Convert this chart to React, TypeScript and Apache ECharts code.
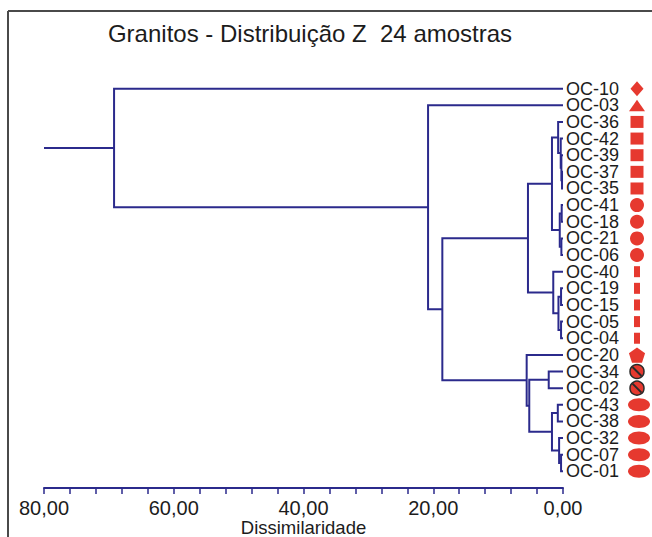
import React, { useEffect, useRef } from "react";
import * as echarts from "echarts";

const chartTitle = "Granitos - Distribuição Z  24 amostras";
const axisName = "Dissimilaridade";

const leafNames = [
  "OC-10", "OC-03", "OC-36", "OC-42", "OC-39", "OC-37", "OC-35", "OC-41",
  "OC-18", "OC-21", "OC-06", "OC-40", "OC-19", "OC-15", "OC-05", "OC-04",
  "OC-20", "OC-34", "OC-02", "OC-43", "OC-38", "OC-32", "OC-07", "OC-01",
];
const leafMarkers = [
  "diamond", "triangle", "square", "square", "square", "square", "square",
  "circle", "circle", "circle", "circle", "dash", "dash", "dash", "dash", "dash",
  "pentagon", "banned", "banned", "ellipse", "ellipse", "ellipse", "ellipse", "ellipse",
];

// merges: node ids 0..23 are leaves, merge k creates node 24+k
const mergeLeft = [5, 4, 3, 2, 7, 9, 28, 27, 12, 14, 32, 11, 31, 17, 19, 22, 21, 38, 37, 16, 36, 1, 0];
const mergeRight = [6, 24, 25, 26, 8, 10, 29, 30, 13, 15, 33, 34, 35, 18, 20, 23, 39, 40, 41, 42, 43, 44, 45];
const mergeHeight = [0.15, 0.25, 0.35, 0.75, 0.2, 0.25, 0.5, 1.7, 0.3, 0.3, 0.7, 1.5, 5.4, 2.2, 0.8, 0.3, 0.6, 1.7, 5.2, 5.6, 18.6, 20.8, 69.2];

const xMin = 0;
const xMax = 80;
const xInterval = 20;

const NAVY = "#2b2a8c";
const RED = "#e6392f";
const TEXT = "#1c1c1c";
const FONT = "Liberation Sans, Arial, sans-serif";

export default function App() {
  const ref = useRef<HTMLDivElement>(null);

  useEffect(() => {
    if (!ref.current) return;
    const chart = echarts.init(ref.current, null, { renderer: "svg" });

    const nodeH: number[] = leafNames.map(() => 0);
    const nodeY: number[] = leafNames.map((_, i) => i);
    mergeLeft.forEach((l, k) => {
      const r = mergeRight[k];
      nodeH.push(mergeHeight[k]);
      nodeY.push((nodeY[l] + nodeY[r]) / 2);
    });
    const links = mergeLeft.map((l, k) => {
      const r = mergeRight[k];
      return [nodeH[l], nodeY[l], nodeH[r], nodeY[r], mergeHeight[k]];
    });
    const rootId = nodeH.length - 1;
    links.push([nodeH[rootId], nodeY[rootId], xMax, nodeY[rootId], xMax]);

    const markerData = leafNames.map((_, i) => [0, i]);

    chart.setOption({
      animation: false,
      backgroundColor: "#ffffff",
      title: {
        text: chartTitle,
        left: 305,
        top: 16,
        textAlign: "center",
        textStyle: { fontSize: 24, fontWeight: "normal", color: TEXT, fontFamily: FONT },
      },
      graphic: [
        { type: "line", shape: { x1: 8, y1: 11, x2: 652, y2: 11 }, style: { stroke: "#4a4a4a", lineWidth: 2 } },
        { type: "line", shape: { x1: 8, y1: 11, x2: 8, y2: 537 }, style: { stroke: "#4a4a4a", lineWidth: 2 } },
      ],
      grid: { left: 44, right: 89, top: 72, bottom: 49, containLabel: false, outerBoundsMode: "none" },
      xAxis: {
        type: "value",
        inverse: true,
        position: "bottom",
        min: xMin,
        max: xMax,
        interval: xInterval,
        name: axisName,
        nameLocation: "middle",
        nameGap: 30,
        nameMoveOverlap: false,
        nameTextStyle: { fontSize: 18.5, color: TEXT, fontFamily: FONT },
        axisLine: { show: true, onZero: false, lineStyle: { color: NAVY, width: 2 } },
        axisTick: { show: true, length: 6, lineStyle: { color: NAVY, width: 1.5 } },
        minorTick: { show: true, splitNumber: 5, length: 6, lineStyle: { color: NAVY, width: 1.5 } },
        splitLine: { show: false },
        axisLabel: {
          fontSize: 20,
          color: TEXT,
          fontFamily: FONT,
          margin: 10,
          formatter: (v: number) => v.toFixed(2).replace(".", ","),
        },
      },
      yAxis: {
        type: "value",
        inverse: true,
        min: -1,
        max: 24,
        interval: 1,
        position: "right",
        axisLine: { show: false, onZero: false },
        axisTick: { show: false },
        splitLine: { show: false },
        axisLabel: {
          margin: 3,
          align: "left",
          fontSize: 18,
          lineHeight: 16,
          color: TEXT,
          fontFamily: FONT,
          formatter: (v: number) =>
            Number.isInteger(v) && v >= 0 && v < leafNames.length ? leafNames[v] : "",
        },
      },
      series: [
        {
          type: "custom",
          clip: false,
          data: links,
          encode: { x: [0, 2, 4], y: [1, 3] },
          renderItem: (_p: any, api: any) => {
            const a = api.coord([api.value(0), api.value(1)]);
            const ab = api.coord([api.value(4), api.value(1)]);
            const bb = api.coord([api.value(4), api.value(3)]);
            const b = api.coord([api.value(2), api.value(3)]);
            return {
              type: "polyline",
              shape: { points: [a, ab, bb, b] },
              style: { stroke: NAVY, lineWidth: 2, fill: "none" },
            };
          },
        },
        {
          type: "custom",
          clip: false,
          data: markerData,
          renderItem: (_p: any, api: any) => {
            const i = api.value(1);
            const p = api.coord([api.value(0), i]);
            const cx = p[0] + 74;
            const cy = p[1];
            const kind = leafMarkers[i];
            const st = { fill: RED };
            if (kind === "diamond") {
              return { type: "polygon", shape: { points: [[cx, cy - 7.5], [cx + 6.5, cy], [cx, cy + 7.5], [cx - 6.5, cy]] }, style: st };
            }
            if (kind === "triangle") {
              return { type: "polygon", shape: { points: [[cx, cy - 5.5], [cx + 8, cy + 6], [cx - 8, cy + 6]] }, style: st };
            }
            if (kind === "square") {
              return { type: "rect", shape: { x: cx - 6.5, y: cy - 6, width: 13, height: 12 }, style: st };
            }
            if (kind === "circle") {
              return { type: "circle", shape: { cx, cy, r: 7 }, style: st };
            }
            if (kind === "dash") {
              return { type: "rect", shape: { x: cx - 3, y: cy - 5.5, width: 6, height: 11 }, style: st };
            }
            if (kind === "pentagon") {
              const pts: number[][] = [];
              for (let k = 0; k < 5; k++) {
                const ang = -Math.PI / 2 + (k * 2 * Math.PI) / 5;
                pts.push([cx + 8.5 * Math.cos(ang), cy + 1 + 8.5 * Math.sin(ang)]);
              }
              return { type: "polygon", shape: { points: pts }, style: st };
            }
            if (kind === "banned") {
              return {
                type: "group",
                children: [
                  { type: "circle", shape: { cx, cy, r: 7 }, style: { fill: RED, stroke: "#2a2a2a", lineWidth: 1.5 } },
                  { type: "line", shape: { x1: cx - 4.5, y1: cy - 4.5, x2: cx + 4.5, y2: cy + 4.5 }, style: { stroke: "#2a2a2a", lineWidth: 2 } },
                ],
              };
            }
            return { type: "ellipse", shape: { cx: cx + 2, cy, rx: 11, ry: 6.5 }, style: st };
          },
        },
      ],
    });

    return () => chart.dispose();
  }, []);

  return (
    <div
      ref={ref}
      style={{ position: "fixed", left: 0, top: 0, width: 652, height: 537, background: "#fff" }}
    />
  );
}
